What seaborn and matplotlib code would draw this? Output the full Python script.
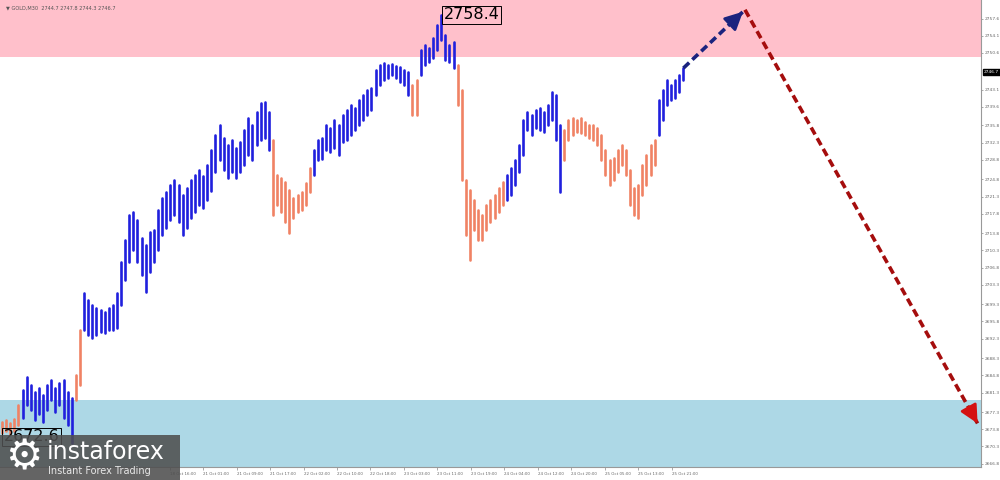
import numpy as np
import pandas as pd
import seaborn as sns
import matplotlib.pyplot as plt
from matplotlib.transforms import blended_transform_factory

# 1-hour bars (high / low)
hi = [2675.3, 2675.6, 2675.0, 2675.8, 2678.8,
      2681.8, 2684.5, 2682.9, 2681.4, 2682.3, 2680.8, 2682.9, 2683.9, 2682.3, 2683.3, 2683.9, 2681.4, 2680.2,
      2684.9, 2694.0,
      2701.6, 2700.2, 2699.2, 2698.6, 2698.2, 2697.8, 2698.6, 2699.2, 2701.6, 2707.9,
      2712.4, 2717.5, 2718.1, 2716.5, 2712.8, 2711.4, 2714.1, 2714.5, 2718.6, 2721.0,
      2722.2, 2723.7, 2724.7, 2723.7, 2721.6, 2723.0, 2724.7, 2725.7, 2726.7, 2725.5,
      2727.7, 2730.8, 2733.9, 2735.9, 2733.2, 2731.8, 2732.8, 2731.2, 2732.4, 2734.9,
      2737.3, 2735.9, 2738.6, 2740.4, 2740.6, 2738.6,
      2732.8, 2725.7, 2725.1, 2724.3, 2722.6, 2721.0, 2721.6, 2722.2, 2724.1, 2727.1,
      2730.8, 2732.8, 2733.2, 2735.9, 2735.3, 2736.9, 2735.9, 2737.9, 2739.0, 2740.0,
      2739.4, 2741.0, 2742.0, 2743.0, 2743.4, 2747.1, 2748.1, 2748.5, 2748.1, 2748.3,
      2747.9, 2747.7, 2747.1, 2746.7,
      2744.1, 2745.1,
      2751.2, 2752.2, 2751.6, 2753.6, 2756.3, 2758.4, 2754.3, 2752.2, 2752.8,
      2748.1, 2743.0, 2724.7, 2722.6, 2720.6, 2718.6, 2717.5, 2719.6, 2720.6, 2721.6, 2723.0, 2724.3,
      2725.7, 2727.1, 2728.8, 2731.8, 2736.9, 2738.6, 2737.9, 2739.0, 2739.4, 2738.6, 2740.0, 2742.6, 2742.0, 2735.9,
      2734.9, 2736.9, 2737.3, 2736.9, 2737.3, 2736.5, 2735.9, 2735.9, 2735.3, 2733.9, 2730.8, 2728.8,
      2729.2, 2730.8, 2731.8, 2730.8, 2726.7, 2723.1, 2723.7, 2727.7, 2729.8, 2731.8, 2732.8,
      2741.0, 2743.0, 2745.1, 2744.1, 2745.1, 2746.1, 2747.5]
lo = [2673.0, 2673.4, 2672.8, 2673.5, 2674.7,
      2676.1, 2678.8, 2677.8, 2675.7, 2676.9, 2675.3, 2677.8, 2679.8, 2677.4, 2678.8, 2676.1, 2674.7, 2671.0,
      2679.8, 2682.9,
      2694.1, 2693.1, 2692.4, 2693.1, 2693.7, 2693.5, 2694.1, 2694.1, 2694.5, 2699.2,
      2704.3, 2707.9, 2710.4, 2707.9, 2705.2, 2701.8, 2705.9, 2707.9, 2710.4, 2713.5,
      2714.9, 2716.5, 2717.5, 2716.1, 2713.5, 2714.9, 2716.9, 2718.1, 2719.6, 2719.0,
      2720.6, 2722.5, 2726.3, 2728.8, 2726.7, 2725.1, 2726.3, 2725.1, 2726.3, 2727.7,
      2729.8, 2728.8, 2731.8, 2732.8, 2733.2, 2730.8,
      2717.5, 2719.6, 2718.1, 2716.1, 2713.9, 2716.9, 2718.1, 2718.6, 2719.6, 2722.2,
      2725.7, 2728.8, 2729.0, 2730.8, 2730.4, 2731.2, 2729.8, 2732.4, 2732.8, 2733.9,
      2734.9, 2735.9, 2736.9, 2737.9, 2739.0, 2742.0, 2744.1, 2745.1, 2745.5, 2746.1,
      2745.5, 2744.7, 2744.1, 2742.0,
      2738.0, 2738.0,
      2746.1, 2748.1, 2748.8, 2749.6, 2751.2, 2753.2, 2749.2, 2748.8, 2747.5,
      2740.0, 2724.7, 2713.5, 2708.4, 2714.5, 2712.4, 2712.4, 2714.5, 2716.1, 2716.9, 2718.1, 2719.6,
      2720.6, 2721.6, 2723.7, 2726.3, 2729.8, 2734.9, 2733.9, 2735.3, 2734.9, 2734.5, 2735.9, 2736.9, 2732.8, 2722.2,
      2728.8, 2732.8, 2733.9, 2734.5, 2734.3, 2733.9, 2733.2, 2732.8, 2731.8, 2728.8, 2725.7, 2723.7,
      2724.7, 2726.3, 2727.7, 2725.7, 2719.6, 2717.5, 2716.9, 2721.6, 2723.7, 2725.7, 2727.7,
      2733.9, 2736.9, 2740.0, 2741.0, 2741.4, 2742.6, 2745.1]

# wave colouring: direction and number of bars in each wave
seg_dir = ["down", "up", "down", "up", "down", "up", "down", "up", "down", "up", "down", "up"]
seg_len = [5, 13, 2, 46, 10, 24, 2, 9, 12, 14, 23, 7]

# forecast path (bar index, price)
fc_bar = [166, 181, 238]
fc_price = [2747.5, 2759.4, 2674.5]

resist_zone = (2749.8, 2770.0)
support_zone = (2650.0, 2679.8)

ytick_vals = [2757.6, 2754.1, 2750.6, 2743.1, 2739.6, 2735.8, 2732.3, 2728.8, 2724.8,
              2721.3, 2717.8, 2713.8, 2710.3, 2706.8, 2703.3, 2699.3, 2695.8, 2692.3,
              2688.3, 2684.8, 2681.3, 2677.3, 2673.8, 2670.3, 2666.8]
last_price = 2746.7
xtick_labels = ["18 Oct 16:00", "21 Oct 01:00", "21 Oct 09:00", "21 Oct 17:00", "22 Oct 02:00",
                "22 Oct 10:00", "22 Oct 18:00", "23 Oct 03:00", "23 Oct 11:00", "23 Oct 19:00",
                "24 Oct 04:00", "24 Oct 12:00", "24 Oct 20:00", "25 Oct 05:00", "25 Oct 13:00",
                "25 Oct 21:00"]

wave = []
for d, n in zip(seg_dir, seg_len):
    wave += [d] * n

df = pd.DataFrame({"bar": np.arange(len(hi)), "hi": hi, "lo": lo, "wave": wave})
long = df.melt(id_vars=["bar", "wave"], value_vars=["lo", "hi"], value_name="price")

sns.set_theme(style="white")
plt.rcParams["font.family"] = ["DejaVu Sans"]

fig = plt.figure(figsize=(10, 4.8), dpi=100)
ax = fig.add_axes([0.0, 13 / 480, 0.981, 467 / 480])

ax.axhspan(*resist_zone, color="#ffc0cb", lw=0, zorder=0)
ax.axhspan(*support_zone, color="#add8e6", lw=0, zorder=0)

sns.lineplot(data=long, x="bar", y="price", units="bar", estimator=None, hue="wave",
             palette={"up": "#2020dd", "down": "#f08264"}, legend=False, lw=1.9, ax=ax)

# forecast arrows
ax.plot(fc_bar[:2], fc_price[:2], ls=(0, (2.2, 1.2)), color="#1a237e", lw=2.6)
ax.plot(fc_bar[1:], fc_price[1:], ls=(0, (2.2, 1.2)), color="#a50d0d", lw=2.6)
ax.annotate("", xy=(fc_bar[1], fc_price[1]),
            xytext=(fc_bar[1] - 0.1 * (fc_bar[1] - fc_bar[0]), fc_price[1] - 0.1 * (fc_price[1] - fc_price[0])),
            arrowprops=dict(arrowstyle="-|>,head_length=0.9,head_width=0.45", color="#1a237e", lw=2))
ax.annotate("", xy=(fc_bar[2], fc_price[2]),
            xytext=(fc_bar[2] - 0.05 * (fc_bar[2] - fc_bar[1]), fc_price[2] - 0.05 * (fc_price[2] - fc_price[1])),
            arrowprops=dict(arrowstyle="-|>,head_length=0.9,head_width=0.45", color="#d41111", lw=2))

# extreme labels
peak = int(np.argmax(hi))
ax.text(peak + 0.6, max(hi), "2758.4", fontsize=11.5, color="black", va="center", ha="left",
        bbox=dict(boxstyle="square,pad=0.1", fc="none", ec="black", lw=0.7), zorder=5)
ax.text(0.5, 2672.3, "2672.6", fontsize=11.5, color="black", va="center", ha="left",
        bbox=dict(boxstyle="square,pad=0.1", fc="none", ec="black", lw=0.7), zorder=5)

ax.set_xlim(-0.49, 238.5)
ax.set_ylim(2666.1, 2761.4)
ax.set_xlabel("")
ax.set_ylabel("")

ax.yaxis.tick_right()
ax.set_yticks(ytick_vals)
ax.set_yticklabels([f"{v:.1f}" for v in ytick_vals], fontsize=3.2, color="#666666")
ax.tick_params(axis="y", length=1.5, width=0.5, color="#888888", pad=1)

# first tick sits at bar 40.85, then one every 8 hours
xt = np.arange(len(xtick_labels)) * 8.15 + 40.85
ax.set_xticks(xt)
ax.set_xticklabels(xtick_labels, fontsize=2.9, color="#666666", ha="left")
ax.tick_params(axis="x", length=2, width=0.5, color="#888888", pad=1.5, bottom=True)

for side in ["top", "left"]:
    ax.spines[side].set_visible(False)
for side in ["right", "bottom"]:
    ax.spines[side].set_color("#999999")
    ax.spines[side].set_linewidth(0.8)

tr = blended_transform_factory(ax.transAxes, ax.transData)
ax.text(1.003, last_price, f"{last_price:.1f}", transform=tr, fontsize=3.2, color="white",
        va="center", ha="left", bbox=dict(boxstyle="square,pad=0.15", fc="black", ec="black"))

ax.text(0.006, 0.988, "\u25bc GOLD,M30  2744.7 2747.8 2744.3 2746.7", transform=ax.transAxes,
        fontsize=3.6, color="#555555", va="top", ha="left")

# logo
fig.patches.append(plt.Rectangle((0, 0), 0.18, 45 / 480, transform=fig.transFigure,
                                 fc="#4f4f4f", ec="none", alpha=0.88, zorder=10))
fig.text(0.024, 0.048, "\u2699", fontsize=30, color="white", ha="center", va="center", zorder=11)
fig.text(0.047, 0.058, "instaforex", fontsize=17, color="white", ha="left", va="center", zorder=11)
fig.text(0.048, 0.018, "Instant Forex Trading", fontsize=7, color="#e8e8e8", ha="left", va="center", zorder=11)

fig.savefig("out.png", dpi=100)
